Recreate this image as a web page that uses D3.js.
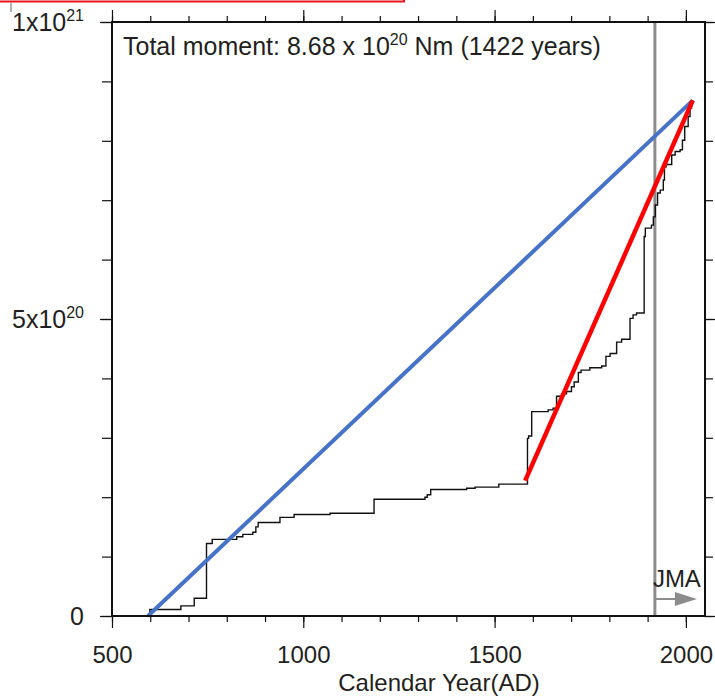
<!DOCTYPE html>
<html>
<head>
<meta charset="utf-8">
<script src="https://cdnjs.cloudflare.com/ajax/libs/d3/7.8.5/d3.min.js"></script>
<style>
  body { margin: 0; background: #fff; }
  svg { display: block; }
  text { font-family: "Liberation Sans", Arial, Helvetica, sans-serif; fill: #231f20; }
</style>
</head>
<body>
<svg id="chart" width="715" height="697"></svg>
<script>
    // data: cumulative seismic moment (x10^20 Nm) after each event year
    var eventYears = [599, 680, 715, 747, 762, 826, 842, 868, 876, 882, 939, 976, 1070,
      1185, 1318, 1324, 1333, 1427, 1449, 1511, 1586, 1589, 1597, 1640, 1653, 1662,
      1675, 1688, 1701, 1708, 1719, 1726, 1749, 1780, 1791, 1802, 1819, 1832, 1854,
      1862, 1871, 1891, 1894, 1910, 1915, 1920, 1926, 1933, 1941, 1944, 1948, 1963,
      1972, 1985, 1991, 1997, 2006, 2011, 2015, 2018];
    var cumMoment = [0.11, 0.17, 0.30, 1.22, 1.29, 1.335, 1.375, 1.41, 1.50, 1.575, 1.66, 1.71, 1.73,
      1.965, 2.00, 2.04, 2.13, 2.15, 2.17, 2.22, 2.99, 3.03, 3.44, 3.47, 3.50, 3.70,
      3.74, 3.78, 3.86, 3.94, 4.10, 4.14, 4.18, 4.21, 4.37, 4.42, 4.61, 4.66, 5.01,
      5.07, 5.10, 6.39, 6.53, 6.58, 6.72, 6.92, 7.12, 7.17, 7.34, 7.56, 7.60, 7.76,
      7.82, 7.85, 8.01, 8.24, 8.41, 8.55, 8.63, 8.68];

    // average-rate lines
    var fullYears = [594, 2018];
    var fullMoment = [0, 8.68];
    var recentYears = [1580, 2018];
    var recentMoment = [2.28, 8.68];

    var jmaYear = 1919;

    // ticks
    var xMajor = [500, 1000, 1500, 2000];
    var xMinor = d3.range(500, 2001, 100);
    var yMajor = [0, 5, 10];
    var yMinor = d3.range(0, 11, 1);
    var yTickBase = ["0", "5x10", "1x10"];
    var yTickExp = ["", "20", "21"];

    var margin = {"top": 22, "right": 10, "bottom": 81, "left": 112};
    var width = 715;
    var height = 697;

    // scales
    var xScale = d3.scaleLinear()
      .domain([500, 2050])
      .range([margin.left, width - margin.right]);
    var yScale = d3.scaleLinear()
      .domain([0, 10])
      .range([height - margin.bottom, margin.top]);

    var svg = d3.select('#chart');

    // red box edge at top
    svg.append('rect')
      .attr('x', -10).attr('y', -20)
      .attr('width', 414).attr('height', 21.5)
      .attr('fill', 'none')
      .attr('stroke', '#e8141c')
      .attr('stroke-width', 2);
    svg.append('line')
      .attr('x1', 11).attr('x2', 11).attr('y1', 3).attr('y2', 12)
      .attr('stroke', '#666').attr('stroke-width', 1);

    // JMA line
    svg.append('line')
      .attr('x1', xScale(jmaYear)).attr('x2', xScale(jmaYear))
      .attr('y1', yScale(10)).attr('y2', yScale(0))
      .attr('stroke', '#8c8c8c')
      .attr('stroke-width', 3);

    // step curve
    var pts = eventYears.map(function(d, i){ return [d, cumMoment[i]]; });
    pts.unshift([eventYears[0], 0]);
    var step = d3.line()
      .x(function(d){ return xScale(d[0]); })
      .y(function(d){ return yScale(d[1]); })
      .curve(d3.curveStepAfter);
    svg.append('path')
      .datum(pts)
      .attr('d', step)
      .attr('fill', 'none')
      .attr('stroke', '#111')
      .attr('stroke-width', 1.4);

    var straight = d3.line()
      .x(function(d){ return xScale(d[0]); })
      .y(function(d){ return yScale(d[1]); });
    svg.append('path')
      .datum(fullYears.map(function(d, i){ return [d, fullMoment[i]]; }))
      .attr('d', straight)
      .attr('stroke', '#4673c7')
      .attr('stroke-width', 4)
      .attr('fill', 'none');
    svg.append('path')
      .datum(recentYears.map(function(d, i){ return [d, recentMoment[i]]; }))
      .attr('d', straight)
      .attr('stroke', '#ff0000')
      .attr('stroke-width', 4.5)
      .attr('fill', 'none');

    // axes
    function styleAxis(g) {
      g.select('.domain').remove();
      g.selectAll('.tick line').attr('stroke', '#111').attr('stroke-width', 1.2);
    }
    var bottom = height - margin.bottom;
    svg.append('g')
      .attr('transform', 'translate(' + [0, bottom] + ')')
      .call(d3.axisBottom(xScale).tickValues(xMinor).tickSize(6).tickFormat(''))
      .call(styleAxis);
    svg.append('g')
      .attr('transform', 'translate(' + [0, bottom] + ')')
      .call(d3.axisBottom(xScale).tickValues(xMajor).tickSize(12).tickPadding(18).tickFormat(d3.format('d')))
      .call(styleAxis)
      .selectAll('text')
      .attr('font-size', 24)
      .attr('fill', '#231f20')
      .style('font-family', '"Liberation Sans", Arial, sans-serif');
    svg.append('g')
      .attr('transform', 'translate(' + [0, margin.top] + ')')
      .call(d3.axisTop(xScale).tickValues(xMinor).tickSize(6).tickFormat(''))
      .call(styleAxis);
    svg.append('g')
      .attr('transform', 'translate(' + [0, margin.top] + ')')
      .call(d3.axisTop(xScale).tickValues(xMajor).tickSize(12).tickFormat(''))
      .call(styleAxis);
    svg.append('g')
      .attr('transform', 'translate(' + [margin.left, 0] + ')')
      .call(d3.axisLeft(yScale).tickValues(yMinor).tickSize(10).tickFormat(''))
      .call(styleAxis);
    svg.append('g')
      .attr('transform', 'translate(' + [margin.left, 0] + ')')
      .call(d3.axisLeft(yScale).tickValues(yMajor).tickSize(12).tickFormat(''))
      .call(styleAxis);
    svg.append('g')
      .attr('transform', 'translate(' + [width - margin.right, 0] + ')')
      .call(d3.axisRight(yScale).tickValues(yMinor).tickSize(8).tickFormat(''))
      .call(styleAxis);
    svg.append('g')
      .attr('transform', 'translate(' + [width - margin.right, 0] + ')')
      .call(d3.axisRight(yScale).tickValues(yMajor).tickSize(11).tickFormat(''))
      .call(styleAxis);

    // y tick labels with exponents
    var yl = svg.selectAll('.ylab')
      .data(yMajor)
      .enter().append('text')
      .attr('class', 'ylab')
      .attr('x', 84)
      .attr('y', function(d){ return yScale(d) + 9; })
      .attr('text-anchor', 'end')
      .attr('font-size', 25);
    yl.append('tspan').text(function(d, i){ return yTickBase[i]; });
    yl.append('tspan')
      .attr('font-size', 16)
      .attr('dy', -10)
      .text(function(d, i){ return yTickExp[i]; });

    // frame
    svg.append('rect')
      .attr('x', margin.left).attr('y', margin.top)
      .attr('width', width - margin.right - margin.left)
      .attr('height', bottom - margin.top)
      .attr('fill', 'none')
      .attr('stroke', '#111')
      .attr('stroke-width', 2);

    // title inside plot
    var title = svg.append('text')
      .attr('x', 123).attr('y', 55)
      .attr('font-size', 25);
    title.append('tspan').text('Total moment: 8.68 x 10');
    title.append('tspan').attr('font-size', 16).attr('dy', -10).text('20');
    title.append('tspan').attr('dy', 10).text(' Nm (1422 years)');

    // axis title
    svg.append('text')
      .attr('x', 439).attr('y', 691)
      .attr('text-anchor', 'middle')
      .attr('font-size', 24)
      .text('Calendar Year(AD)');

    // JMA label and arrow
    var jx = xScale(jmaYear);
    svg.append('text')
      .attr('x', jx - 2).attr('y', 587)
      .attr('font-size', 24)
      .text('JMA');
    svg.append('line')
      .attr('x1', jx).attr('x2', jx + 22)
      .attr('y1', 599).attr('y2', 599)
      .attr('stroke', '#8c8c8c').attr('stroke-width', 2);
    svg.append('path')
      .attr('d', 'M' + (jx + 20) + ',592L' + (jx + 42) + ',599L' + (jx + 20) + ',606Z')
      .attr('fill', '#8c8c8c');
</script>
</body>
</html>
